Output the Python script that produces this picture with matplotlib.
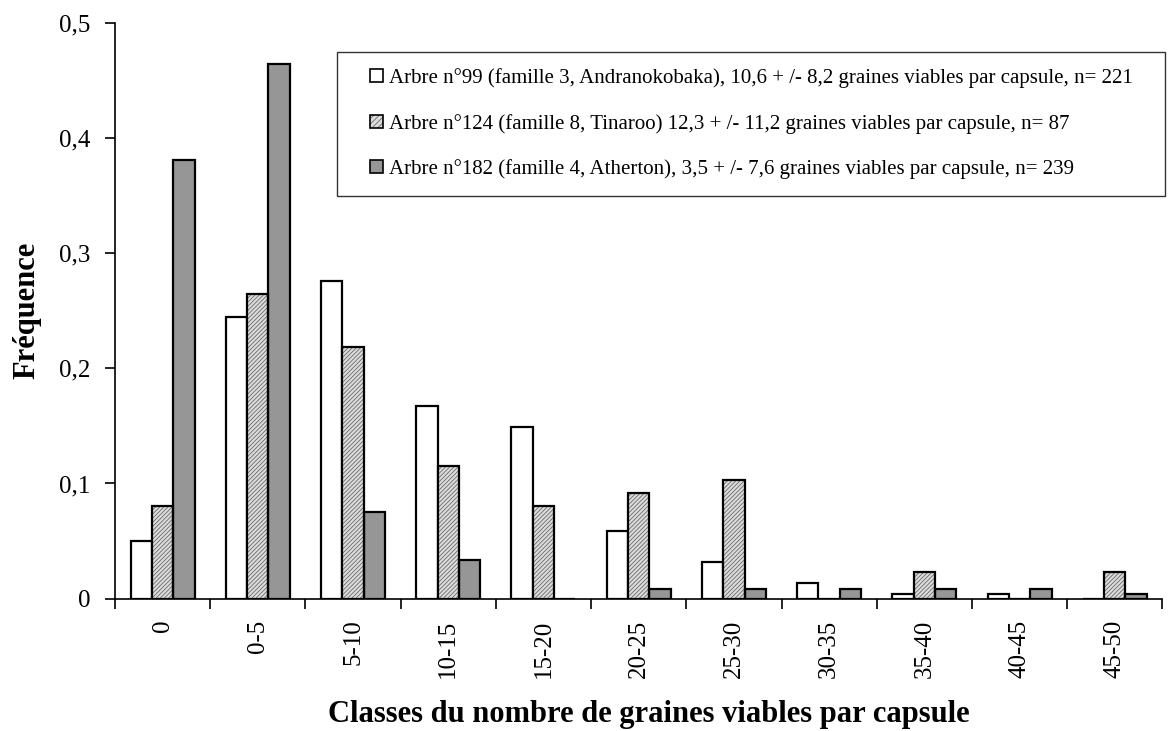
import matplotlib
matplotlib.use("Agg")
import matplotlib.pyplot as plt
import numpy as np
from matplotlib.patches import Patch, Rectangle
from matplotlib.legend_handler import HandlerPatch

categories = ["0", "0-5", "5-10", "10-15", "15-20", "20-25", "25-30", "30-35", "35-40", "40-45", "45-50"]
arbre99 = [0.0498, 0.2443, 0.2760, 0.1674, 0.1493, 0.0588, 0.0317, 0.0136, 0.0045, 0.0045, 0.0]
arbre124 = [0.0805, 0.2644, 0.2184, 0.1149, 0.0805, 0.0920, 0.1034, 0.0, 0.0230, 0.0, 0.0230]
arbre182 = [0.3808, 0.4644, 0.0753, 0.0335, 0.0, 0.0084, 0.0084, 0.0084, 0.0084, 0.0084, 0.0042]
labels = [
    "Arbre n°99 (famille 3, Andranokobaka), 10,6 + /- 8,2 graines viables par capsule, n= 221",
    "Arbre n°124 (famille 8, Tinaroo) 12,3 + /- 11,2 graines viables par capsule, n= 87",
    "Arbre n°182 (famille 4, Atherton), 3,5 + /- 7,6 graines viables par capsule, n= 239",
]
yticks = [0, 0.1, 0.2, 0.3, 0.4, 0.5]
yticklabels = ["0", "0,1", "0,2", "0,3", "0,4", "0,5"]

plt.rcParams['font.family'] = ['Liberation Serif', 'DejaVu Serif']
plt.rcParams['hatch.linewidth'] = 0.6

fig = plt.figure(figsize=(11.73, 7.31), dpi=100)
ax = fig.add_axes([0.098, 0.181, 0.893, 0.788])

x = np.arange(len(categories))
w = 0.224
lw = 1.6
ax.bar(x - w, arbre99, w, color='white', edgecolor='black', linewidth=lw, zorder=3)
ax.bar(x, arbre124, w, color='#dcdcdc', edgecolor='#6a6a6a', linewidth=0, hatch='////////', zorder=3)
ax.bar(x, arbre124, w, fill=False, edgecolor='black', linewidth=lw, zorder=4)
ax.bar(x + w, arbre182, w, color='#969696', edgecolor='black', linewidth=lw, zorder=3)

ax.set_xlim(-0.5, len(categories) - 0.5)
ax.set_ylim(0, 0.5)
ax.set_yticks(yticks)
ax.set_yticklabels(yticklabels, fontsize=18)
ax.set_xticks(x)
ax.set_xticklabels(categories, rotation=90, fontsize=18)
ax.set_xticks(np.arange(-0.5, len(categories), 1.0), minor=True)
ax.tick_params(axis='x', which='major', length=0, pad=15)
ax.tick_params(axis='x', which='minor', length=7.5, width=1.2, direction='out')
ax.tick_params(axis='y', length=7.5, width=1.2, direction='out', pad=10)
for s in ['top', 'right']:
    ax.spines[s].set_visible(False)
for s in ['left', 'bottom']:
    ax.spines[s].set_linewidth(1.2)

ax.set_ylabel("Fréquence", fontsize=22, fontweight='bold')
ax.yaxis.set_label_coords(-0.0706, 0.5)
ax.set_xlabel("Classes du nombre de graines viables par capsule", fontsize=22, fontweight='bold')
ax.xaxis.set_label_coords(0.51, -0.176)


def square_patch(legend, orig_handle, xdescent, ydescent, width, height, fontsize):
    s = 13 * 72 / 100.0
    return Rectangle((width - s - xdescent, (height - s) / 2 - ydescent), s, s)


hmap = {Patch: HandlerPatch(patch_func=square_patch)}
h1 = Patch(facecolor='white', edgecolor='black', linewidth=1.2)
h2a = Patch(facecolor='#dcdcdc', edgecolor='#6a6a6a', linewidth=0, hatch='//////')
h2b = Patch(fill=False, edgecolor='black', linewidth=1.2)
h3 = Patch(facecolor='#969696', edgecolor='black', linewidth=1.2)
leg = ax.legend([h1, (h2a, h2b), h3], [l + "   " for l in labels], loc='upper right',
                bbox_to_anchor=(1.002, 0.9496), handler_map=hmap,
                fontsize=15, frameon=True, fancybox=False, edgecolor='black',
                handlelength=1.39, handleheight=0.7, handletextpad=0.29, labelspacing=1.235,
                borderpad=0.785, borderaxespad=0)
leg.get_frame().set_linewidth(1.0)

fig.savefig("out.png", dpi=100)
